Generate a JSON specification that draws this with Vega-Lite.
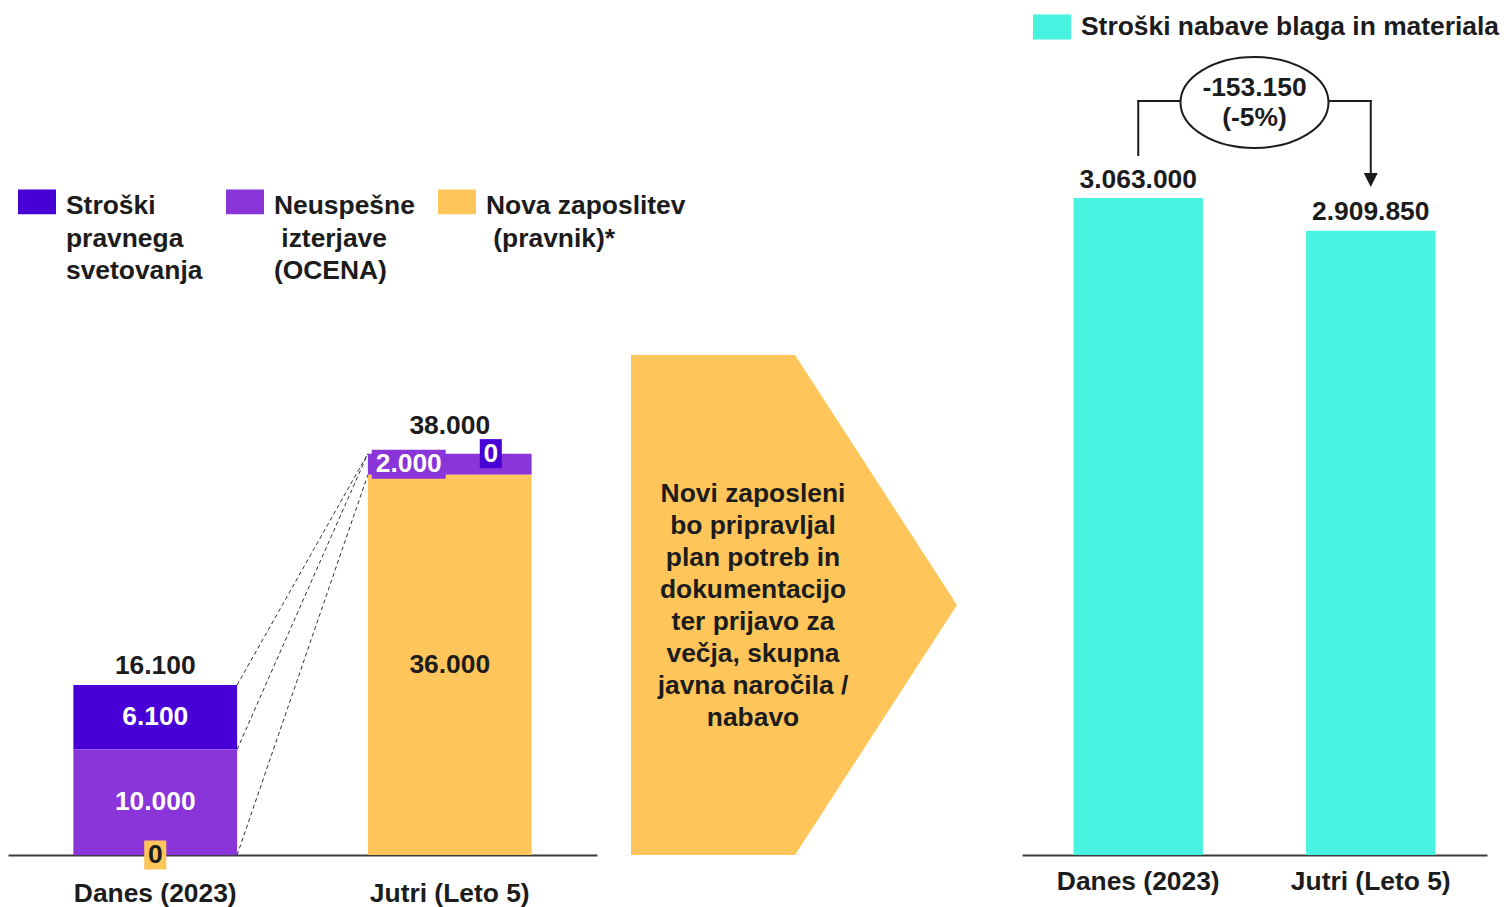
{
  "$schema": "https://vega.github.io/schema/vega-lite/v6.json",
  "padding": {"left": 8, "top": 8, "right": 0, "bottom": 0},
  "background": "white",
  "spacing": 34,
  "bounds": "flush",
  "config": {
    "view": {"stroke": null},
    "font": "Liberation Sans",
    "locale": {"number": {"decimal": ",", "thousands": ".", "grouping": [3], "currency": ["", " €"], "minus": "-"}},
    "text": {"font": "Liberation Sans", "fontWeight": "bold", "fontSize": 26.4, "color": "#1c1c1c"},
    "style": {"guide-label": {"lineHeight": 32.5}},
    "axis": {"domainColor": "#3c3c3c", "domainWidth": 2, "ticks": false, "grid": false, "labelFont": "Liberation Sans", "labelFontWeight": "bold", "labelFontSize": 26.4, "labelColor": "#1c1c1c", "labelAngle": 0, "labelLimit": 400}
  },
  "datasets": {
    "segments": [
      {"period": "Danes (2023)", "segment": "Stroški pravnega svetovanja", "value": 6100, "rank": 3},
      {"period": "Danes (2023)", "segment": "Neuspešne izterjave (OCENA)", "value": 10000, "rank": 2},
      {"period": "Danes (2023)", "segment": "Nova zaposlitev (pravnik)*", "value": 0, "rank": 1},
      {"period": "Jutri (Leto 5)", "segment": "Stroški pravnega svetovanja", "value": 0, "rank": 3},
      {"period": "Jutri (Leto 5)", "segment": "Neuspešne izterjave (OCENA)", "value": 2000, "rank": 2},
      {"period": "Jutri (Leto 5)", "segment": "Nova zaposlitev (pravnik)*", "value": 36000, "rank": 1}
    ],
    "totals": [
      {"period": "Danes (2023)", "total": 16100},
      {"period": "Jutri (Leto 5)", "total": 38000}
    ],
    "connectors": [
      {"from": "Danes (2023)", "to": "Jutri (Leto 5)", "y1": 16100, "y2": 38000},
      {"from": "Danes (2023)", "to": "Jutri (Leto 5)", "y1": 10000, "y2": 38000},
      {"from": "Danes (2023)", "to": "Jutri (Leto 5)", "y1": 0, "y2": 36000}
    ],
    "chevron": [
      {"x": 0, "lo": 0, "hi": 500},
      {"x": 164, "lo": 0, "hi": 500},
      {"x": 326, "lo": 250, "hi": 250}
    ],
    "note": [
      {"x": 122, "y": 250, "text": "Novi zaposleni\nbo pripravljal\nplan potreb in\ndokumentacijo\nter prijavo za\nvečja, skupna\njavna naročila /\nnabavo"}
    ],
    "materials": [
      {"period": "Danes (2023)", "series": "Stroški nabave blaga in materiala", "value": 3063000},
      {"period": "Jutri (Leto 5)", "series": "Stroški nabave blaga in materiala", "value": 2909850}
    ],
    "bracket": [
      {"from": "Danes (2023)", "to": "Danes (2023)", "y1": 3263500, "y2": 3515250},
      {"from": "Danes (2023)", "to": "Jutri (Leto 5)", "y1": 3515250, "y2": 3515250},
      {"from": "Jutri (Leto 5)", "to": "Jutri (Leto 5)", "y1": 3515250, "y2": 3170000}
    ],
    "arrow": [
      {"period": "Jutri (Leto 5)", "level": 3146940}
    ],
    "change": [
      {"pos": 1, "level": 3508250, "label": "-153.150\n(-5%)"}
    ]
  },
  "resolve": {"scale": {"color": "independent", "x": "independent", "y": "independent"}, "legend": {"color": "independent"}},
  "hconcat": [
    {
      "width": 589,
      "height": 845,
      "layer": [
        {
          "data": {"name": "segments"},
          "mark": {"type": "bar"},
          "encoding": {
            "x": {"field": "period", "type": "nominal", "sort": null, "scale": {"domain": ["Danes (2023)", "Jutri (Leto 5)"], "paddingInner": 0.444, "paddingOuter": 0.222}, "axis": {"title": null, "labelPadding": 25}},
            "y": {"field": "value", "type": "quantitative", "stack": "zero", "scale": {"domain": [0, 80000], "nice": false}, "axis": null},
            "color": {
              "field": "segment", "type": "nominal",
              "scale": {"domain": ["Stroški pravnega svetovanja", "Neuspešne izterjave (OCENA)", "Nova zaposlitev (pravnik)*"], "range": ["#4700D6", "#8935D9", "#FEC65A"]},
              "legend": {
                "orient": "none", "legendX": 10, "legendY": 164, "direction": "horizontal", "columns": 3,
                "title": null, "symbolType": "M-1,-0.2H1V1.1H-1Z", "symbolSize": 1444, "symbolStrokeWidth": 0, "symbolOpacity": 1,
                "labelFont": "Liberation Sans", "labelFontWeight": "bold", "labelFontSize": 26.4, "labelColor": "#1c1c1c",
                "labelBaseline": "top", "labelLimit": 400, "labelOffset": 10, "columnPadding": 23,
                "labelExpr": "datum.label === 'Stroški pravnega svetovanja' ? ['Stroški','pravnega','svetovanja'] : datum.label === 'Neuspešne izterjave (OCENA)' ? ['Neuspešne','\u200b\u00a0izterjave','(OCENA)'] : ['Nova zaposlitev','\u200b\u00a0(pravnik)*','\u200b\u00a0']"
              }
            },
            "order": {"field": "rank", "type": "quantitative"}
          }
        },
        {
          "data": {"name": "connectors"},
          "mark": {"type": "rule", "color": "#333333", "strokeWidth": 1, "strokeDash": [4, 3]},
          "encoding": {
            "x": {"field": "from", "type": "nominal", "bandPosition": 1, "scale": {"domain": ["Danes (2023)", "Jutri (Leto 5)"], "paddingInner": 0.444, "paddingOuter": 0.222}, "axis": {"title": null, "labelPadding": 25}},
            "x2": {"field": "to", "bandPosition": 0},
            "y": {"field": "y1", "type": "quantitative", "scale": {"domain": [0, 80000], "nice": false}, "axis": null},
            "y2": {"field": "y2"}
          }
        },
        {
          "data": {"name": "segments"},
          "mark": {"type": "point", "filled": true, "shape": "M-0.76,-1H0.76V1H-0.76Z", "size": 841, "strokeWidth": 0},
          "encoding": {
            "x": {"field": "period", "type": "nominal", "scale": {"domain": ["Danes (2023)", "Jutri (Leto 5)"], "paddingInner": 0.444, "paddingOuter": 0.222}, "axis": {"title": null, "labelPadding": 25}},
            "y": {"field": "value", "type": "quantitative", "stack": "zero", "bandPosition": 0.5, "scale": {"domain": [0, 80000], "nice": false}, "axis": null},
            "color": {"field": "segment", "type": "nominal", "legend": null},
            "order": {"field": "rank", "type": "quantitative"},
            "opacity": {"condition": {"test": "datum.period === 'Danes (2023)' && datum.value === 0", "value": 1}, "value": 0}
          }
        },
        {
          "data": {"name": "segments"},
          "mark": {"type": "point", "filled": true, "shape": "M2.07,-1H3.59V1H2.07Z", "size": 841, "strokeWidth": 0},
          "encoding": {
            "x": {"field": "period", "type": "nominal", "scale": {"domain": ["Danes (2023)", "Jutri (Leto 5)"], "paddingInner": 0.444, "paddingOuter": 0.222}, "axis": {"title": null, "labelPadding": 25}},
            "y": {"field": "value", "type": "quantitative", "stack": "zero", "bandPosition": 0.5, "scale": {"domain": [0, 80000], "nice": false}, "axis": null},
            "color": {"field": "segment", "type": "nominal", "legend": null},
            "order": {"field": "rank", "type": "quantitative"},
            "opacity": {"condition": {"test": "datum.period === 'Jutri (Leto 5)' && datum.rank === 3", "value": 1}, "value": 0}
          }
        },
        {
          "data": {"name": "segments"},
          "mark": {"type": "point", "filled": true, "shape": "M-5.38,-1H-0.28V1H-5.38Z", "size": 841, "strokeWidth": 0},
          "encoding": {
            "x": {"field": "period", "type": "nominal", "scale": {"domain": ["Danes (2023)", "Jutri (Leto 5)"], "paddingInner": 0.444, "paddingOuter": 0.222}, "axis": {"title": null, "labelPadding": 25}},
            "y": {"field": "value", "type": "quantitative", "stack": "zero", "bandPosition": 0.5, "scale": {"domain": [0, 80000], "nice": false}, "axis": null},
            "color": {"field": "segment", "type": "nominal", "legend": null},
            "order": {"field": "rank", "type": "quantitative"},
            "opacity": {"condition": {"test": "datum.period === 'Jutri (Leto 5)' && datum.rank === 2", "value": 1}, "value": 0}
          }
        },
        {
          "data": {"name": "segments"},
          "mark": {"type": "text", "baseline": "middle", "align": "center"},
          "encoding": {
            "x": {"field": "period", "type": "nominal", "scale": {"domain": ["Danes (2023)", "Jutri (Leto 5)"], "paddingInner": 0.444, "paddingOuter": 0.222}, "axis": {"title": null, "labelPadding": 25}},
            "y": {"field": "value", "type": "quantitative", "stack": "zero", "bandPosition": 0.5, "scale": {"domain": [0, 80000], "nice": false}, "axis": null},
            "detail": {"field": "segment"},
            "order": {"field": "rank", "type": "quantitative"},
            "text": {"condition": {"test": "datum.period === 'Jutri (Leto 5)' && datum.rank > 1", "value": ""}, "field": "value", "type": "quantitative", "format": ",d"},
            "color": {"condition": {"test": "datum.rank === 1", "value": "#1c1c1c"}, "value": "#ffffff"}
          }
        },
        {
          "data": {"name": "segments"},
          "mark": {"type": "text", "baseline": "middle", "align": "center", "dx": -41, "color": "#ffffff"},
          "encoding": {
            "x": {"field": "period", "type": "nominal", "scale": {"domain": ["Danes (2023)", "Jutri (Leto 5)"], "paddingInner": 0.444, "paddingOuter": 0.222}, "axis": {"title": null, "labelPadding": 25}},
            "y": {"field": "value", "type": "quantitative", "stack": "zero", "bandPosition": 0.5, "scale": {"domain": [0, 80000], "nice": false}, "axis": null},
            "detail": {"field": "segment"},
            "order": {"field": "rank", "type": "quantitative"},
            "text": {"condition": {"test": "!(datum.period === 'Jutri (Leto 5)' && datum.rank === 2)", "value": ""}, "field": "value", "type": "quantitative", "format": ",d"}
          }
        },
        {
          "data": {"name": "segments"},
          "mark": {"type": "text", "baseline": "middle", "align": "center", "dx": 41, "color": "#ffffff"},
          "encoding": {
            "x": {"field": "period", "type": "nominal", "scale": {"domain": ["Danes (2023)", "Jutri (Leto 5)"], "paddingInner": 0.444, "paddingOuter": 0.222}, "axis": {"title": null, "labelPadding": 25}},
            "y": {"field": "value", "type": "quantitative", "stack": "zero", "bandPosition": 0.5, "scale": {"domain": [0, 80000], "nice": false}, "axis": null},
            "detail": {"field": "segment"},
            "order": {"field": "rank", "type": "quantitative"},
            "text": {"condition": {"test": "!(datum.period === 'Jutri (Leto 5)' && datum.rank === 3)", "value": ""}, "field": "value", "type": "quantitative", "format": ",d"}
          }
        },
        {
          "data": {"name": "totals"},
          "transform": [{"filter": "datum.period === 'Danes (2023)'"}],
          "mark": {"type": "text", "baseline": "middle", "align": "center", "dy": -18.5},
          "encoding": {
            "x": {"field": "period", "type": "nominal", "scale": {"domain": ["Danes (2023)", "Jutri (Leto 5)"], "paddingInner": 0.444, "paddingOuter": 0.222}, "axis": {"title": null, "labelPadding": 25}},
            "y": {"field": "total", "type": "quantitative", "scale": {"domain": [0, 80000], "nice": false}, "axis": null},
            "text": {"field": "total", "type": "quantitative", "format": ",d"}
          }
        },
        {
          "data": {"name": "totals"},
          "transform": [{"filter": "datum.period === 'Jutri (Leto 5)'"}],
          "mark": {"type": "text", "baseline": "middle", "align": "center", "dy": -28},
          "encoding": {
            "x": {"field": "period", "type": "nominal", "scale": {"domain": ["Danes (2023)", "Jutri (Leto 5)"], "paddingInner": 0.444, "paddingOuter": 0.222}, "axis": {"title": null, "labelPadding": 25}},
            "y": {"field": "total", "type": "quantitative", "scale": {"domain": [0, 80000], "nice": false}, "axis": null},
            "text": {"field": "total", "type": "quantitative", "format": ",d"}
          }
        }
      ]
    },
    {
      "width": 357,
      "height": 845,
      "layer": [
        {
          "data": {"name": "chevron"},
          "mark": {"type": "area", "color": "#FEC65A", "interpolate": "linear"},
          "encoding": {
            "x": {"field": "x", "type": "quantitative", "scale": {"domain": [0, 357], "nice": false, "zero": false}, "axis": null},
            "y": {"field": "hi", "type": "quantitative", "scale": {"domain": [0, 845], "nice": false}, "axis": null},
            "y2": {"field": "lo"}
          }
        },
        {
          "data": {"name": "note"},
          "mark": {"type": "text", "lineBreak": "\n", "lineHeight": 32, "align": "center", "baseline": "middle", "dy": -111},
          "encoding": {
            "x": {"field": "x", "type": "quantitative", "scale": {"domain": [0, 357], "nice": false, "zero": false}, "axis": null},
            "y": {"field": "y", "type": "quantitative", "scale": {"domain": [0, 845], "nice": false}, "axis": null},
            "text": {"field": "text"}
          }
        }
      ]
    },
    {
      "width": 465,
      "height": 845,
      "resolve": {"scale": {"x": "independent"}},
      "layer": [
        {
          "data": {"name": "materials"},
          "mark": {"type": "bar"},
          "encoding": {
            "x": {"field": "period", "type": "nominal", "sort": null, "scale": {"domain": ["Danes (2023)", "Jutri (Leto 5)"], "paddingInner": 0.444, "paddingOuter": 0.222}, "axis": {"title": null, "labelPadding": 13}},
            "y": {"field": "value", "type": "quantitative", "scale": {"domain": [0, 3939500], "nice": false}, "axis": null},
            "color": {
              "field": "series", "type": "nominal",
              "scale": {"domain": ["Stroški nabave blaga in materiala"], "range": ["#48F2E0"]},
              "legend": {
                "orient": "none", "legendX": 11, "legendY": -2, "title": null,
                "symbolType": "M-1,-0.66H1V0.66H-1Z", "symbolSize": 1444, "symbolStrokeWidth": 0, "symbolOpacity": 1,
                "labelFont": "Liberation Sans", "labelFontWeight": "bold", "labelFontSize": 26.4, "labelColor": "#1c1c1c",
                "labelLimit": 600, "labelOffset": 10
              }
            }
          }
        },
        {
          "data": {"name": "materials"},
          "mark": {"type": "text", "baseline": "middle", "align": "center", "dy": -18.5},
          "encoding": {
            "x": {"field": "period", "type": "nominal", "scale": {"domain": ["Danes (2023)", "Jutri (Leto 5)"], "paddingInner": 0.444, "paddingOuter": 0.222}, "axis": null},
            "y": {"field": "value", "type": "quantitative", "scale": {"domain": [0, 3939500], "nice": false}, "axis": null},
            "text": {"field": "value", "type": "quantitative", "format": ",d"}
          }
        },
        {
          "data": {"name": "bracket"},
          "mark": {"type": "rule", "color": "#1c1c1c", "strokeWidth": 2, "strokeCap": "square"},
          "encoding": {
            "x": {"field": "from", "type": "nominal", "scale": {"domain": ["Danes (2023)", "Jutri (Leto 5)"], "paddingInner": 0.444, "paddingOuter": 0.222}, "axis": null},
            "x2": {"field": "to"},
            "y": {"field": "y1", "type": "quantitative", "scale": {"domain": [0, 3939500], "nice": false}, "axis": null},
            "y2": {"field": "y2"}
          }
        },
        {
          "data": {"name": "arrow"},
          "mark": {"type": "point", "filled": true, "shape": "M-1,-1L1,-1L0,1Z", "size": 196, "color": "#1c1c1c", "opacity": 1},
          "encoding": {
            "x": {"field": "period", "type": "nominal", "scale": {"domain": ["Danes (2023)", "Jutri (Leto 5)"], "paddingInner": 0.444, "paddingOuter": 0.222}, "axis": null},
            "y": {"field": "level", "type": "quantitative", "scale": {"domain": [0, 3939500], "nice": false}, "axis": null}
          }
        },
        {
          "data": {"name": "change"},
          "mark": {"type": "point", "shape": "M-1,0A1,0.615,0,1,0,1,0A1,0.615,0,1,0,-1,0Z", "size": 21904, "fill": "#ffffff", "stroke": "#1c1c1c", "strokeWidth": 2, "opacity": 1, "filled": false, "fillOpacity": 1},
          "encoding": {
            "x": {"field": "pos", "type": "quantitative", "scale": {"domain": [0, 2], "nice": false, "zero": false}, "axis": null},
            "y": {"field": "level", "type": "quantitative", "scale": {"domain": [0, 3939500], "nice": false}, "axis": null}
          }
        },
        {
          "data": {"name": "change"},
          "mark": {"type": "text", "lineBreak": "\n", "lineHeight": 30, "align": "center", "baseline": "middle", "dy": -14.5},
          "encoding": {
            "x": {"field": "pos", "type": "quantitative", "scale": {"domain": [0, 2], "nice": false, "zero": false}, "axis": null},
            "y": {"field": "level", "type": "quantitative", "scale": {"domain": [0, 3939500], "nice": false}, "axis": null},
            "text": {"field": "label"}
          }
        }
      ]
    }
  ]
}
